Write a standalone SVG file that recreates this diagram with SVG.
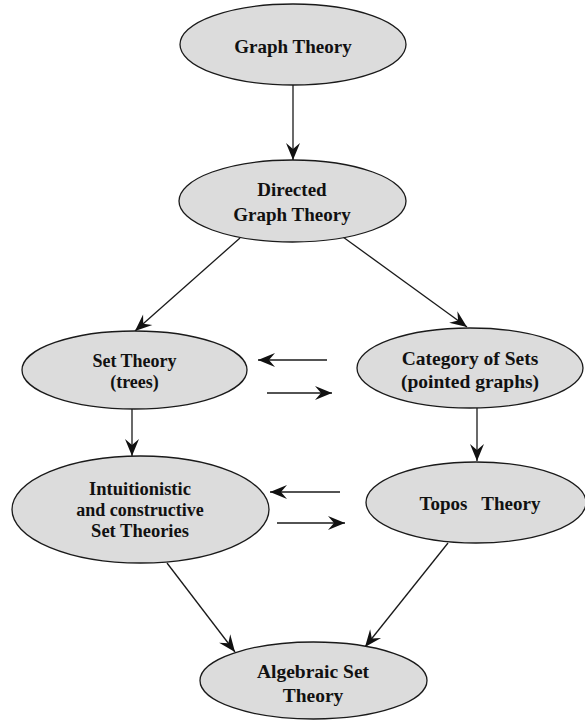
<svg xmlns="http://www.w3.org/2000/svg" width="585" height="721" viewBox="0 0 585 721">
<style>
.node ellipse{fill:#dcdcdc;stroke:#1a1a1a;stroke-width:1.3}
.node text{font-family:'Liberation Serif',Tinos,'Times New Roman','DejaVu Serif',serif;font-weight:bold;fill:#111;text-anchor:middle}
.edges line{stroke:#1a1a1a;stroke-width:1.3;marker-end:url(#ah)}
</style>
<defs>
<marker id="ah" markerUnits="userSpaceOnUse" viewBox="-20 -8 22 16" markerWidth="22" markerHeight="16" refX="0" refY="0" orient="auto">
<path d="M0,0 L-17,-7 L-11,0 L-17,7 Z" fill="#111"/>
</marker>
</defs>
<rect width="585" height="721" fill="#fff"/>
<g class="edges" id="connectors">
<line x1="293" y1="85" x2="293" y2="160"/>
<line x1="240" y1="238" x2="135" y2="331"/>
<line x1="343" y1="237" x2="467" y2="327"/>
<line x1="132" y1="409" x2="132" y2="456"/>
<line x1="477" y1="408" x2="477" y2="461"/>
<line x1="167" y1="563" x2="235" y2="652"/>
<line x1="448" y1="543" x2="365" y2="647"/>
<line x1="327" y1="360" x2="258" y2="360"/>
<line x1="267" y1="393" x2="332" y2="393"/>
<line x1="340" y1="492" x2="270" y2="492"/>
<line x1="277" y1="523" x2="345" y2="523"/>
</g>
<g class="node" id="graph-theory">
<ellipse cx="293" cy="44.5" rx="113" ry="40.5"/>
<text x="293" y="53" font-size="19" font-family="Liberation Serif, serif">Graph Theory</text>
</g>
<g class="node" id="directed-graph-theory">
<ellipse cx="292.5" cy="201" rx="113.5" ry="41"/>
<text x="292" y="196" font-size="19" font-family="Liberation Serif, serif">Directed</text>
<text x="292" y="221" font-size="19" font-family="Liberation Serif, serif">Graph Theory</text>
</g>
<g class="node" id="set-theory">
<ellipse cx="134.5" cy="370" rx="112.5" ry="39"/>
<text x="134.5" y="367" font-size="18" font-family="Liberation Serif, serif">Set Theory</text>
<text x="134.5" y="388" font-size="18" font-family="Liberation Serif, serif">(trees)</text>
</g>
<g class="node" id="category-of-sets">
<ellipse cx="470" cy="368" rx="113" ry="40"/>
<text x="470" y="365" font-size="19.5" font-family="Liberation Serif, serif">Category of Sets</text>
<text x="470" y="388" font-size="19.5" font-family="Liberation Serif, serif">(pointed graphs)</text>
</g>
<g class="node" id="intuitionistic">
<ellipse cx="140.5" cy="509.5" rx="128.5" ry="53.5"/>
<text x="140" y="495" font-size="18.5" font-family="Liberation Serif, serif">Intuitionistic</text>
<text x="140" y="516" font-size="18" font-family="Liberation Serif, serif">and constructive</text>
<text x="140" y="537" font-size="18.5" font-family="Liberation Serif, serif">Set Theories</text>
</g>
<g class="node" id="topos-theory">
<ellipse cx="476" cy="502.5" rx="110" ry="40.5"/>
<text x="480" y="510" font-size="19" font-family="Liberation Serif, serif" xml:space="preserve">Topos   Theory</text>
</g>
<g class="node" id="algebraic-set-theory">
<ellipse cx="313.5" cy="680.5" rx="113.5" ry="38.5"/>
<text x="313" y="678" font-size="19.5" font-family="Liberation Serif, serif">Algebraic Set</text>
<text x="313" y="702" font-size="19.5" font-family="Liberation Serif, serif">Theory</text>
</g>
</svg>
